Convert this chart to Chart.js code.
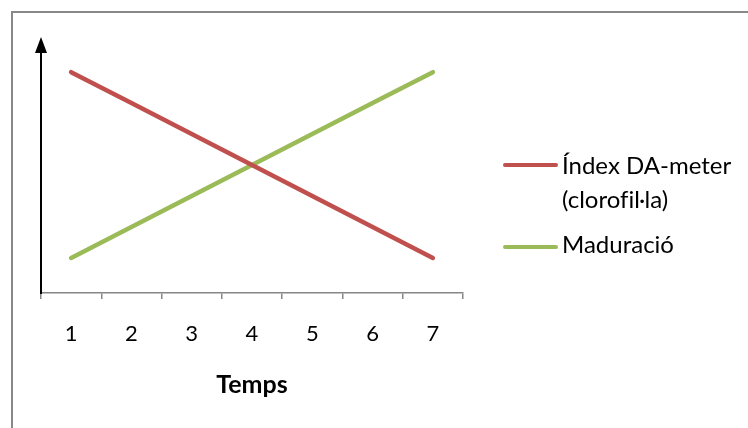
<!DOCTYPE html>
<html>
<head>
<meta charset="utf-8">
<script src="https://cdn.jsdelivr.net/npm/chart.js@4/dist/chart.umd.min.js"></script>
<style>
  html, body { margin: 0; padding: 0; background: #fff; overflow: hidden; }
  #wrap { position: relative; width: 748px; height: 428px; overflow: hidden; }
  #frame { position: absolute; left: 11px; top: 11px; width: 800px; height: 500px; border: 2px solid #888888; box-sizing: border-box; }
  #c { position: absolute; left: 0; top: 0; }
  .leg { position: absolute; font-family: Lato, "Open Sans", sans-serif; font-size: 24px; color: #000; line-height: 34px; white-space: nowrap; font-variant-ligatures: none; }
  .sw { position: absolute; height: 4px; border-radius: 2px; }
</style>
</head>
<body>
<div id="wrap">
  <div id="frame"></div>
  <canvas id="c" width="748" height="428"></canvas>
  <div id="legend"></div>
</div>
<script>
const categories = ['1', '2', '3', '4', '5', '6', '7'];
const indexDA = [7, 6, 5, 4, 3, 2, 1];
const maduracio = [1, 2, 3, 4, 5, 6, 7];
const seriesLabels = [['Índex DA-meter', '(clorofil·la)'], ['Maduració']];
const seriesColors = ['#C0504D', '#9BBB59'];
const xTitle = 'Temps';

const arrowPlugin = {
  id: 'yArrow',
  afterDraw(chart) {
    const ctx = chart.ctx;
    const x = chart.chartArea.left;
    const top = chart.chartArea.top;
    ctx.save();
    ctx.fillStyle = '#000';
    ctx.beginPath();
    ctx.moveTo(x, top - 15);
    ctx.lineTo(x - 6, top + 1);
    ctx.lineTo(x + 6, top + 1);
    ctx.closePath();
    ctx.fill();
    ctx.restore();
  }
};

const chart = new Chart(document.getElementById('c'), {
  type: 'line',
  data: {
    labels: categories,
    datasets: [
      { label: seriesLabels[0].join(' '), data: indexDA, borderColor: seriesColors[0], backgroundColor: seriesColors[0], borderWidth: 4.5, borderCapStyle: 'round', pointRadius: 0, tension: 0 },
      { label: seriesLabels[1].join(' '), data: maduracio, borderColor: seriesColors[1], backgroundColor: seriesColors[1], borderWidth: 4.5, borderCapStyle: 'round', pointRadius: 0, tension: 0 }
    ]
  },
  options: {
    responsive: false,
    animation: false,
    devicePixelRatio: 1,
    layout: { padding: { left: 41, right: 285, top: 52, bottom: 25 } },
    plugins: { legend: { display: false }, tooltip: { enabled: false } },
    scales: {
      x: {
        type: 'category',
        offset: true,
        grid: { display: true, offset: true, drawOnChartArea: false, drawTicks: true, tickLength: 6, color: '#868686', lineWidth: 1.5 },
        border: { display: true, color: '#868686', width: 1.5 },
        ticks: { color: '#000', font: { family: 'Lato', size: 22 }, padding: 22 },
        title: { display: true, text: xTitle, color: '#000', font: { family: 'Lato', size: 25, weight: 'bold' }, padding: { top: 0, bottom: 3 } },
        afterFit(scale) { scale.height = 110; }
      },
      y: {
        min: -0.13,
        max: 7.65,
        grid: { display: false },
        border: { display: true, color: '#000', width: 2 },
        ticks: { display: false },
        afterFit(scale) { scale.width = 0; }
      }
    }
  },
  plugins: [arrowPlugin]
});

// HTML legend
const legend = document.getElementById('legend');
const legendTops = [148, 227];
const swatchTops = [163, 245];
seriesLabels.forEach((lines, i) => {
  const sw = document.createElement('div');
  sw.className = 'sw';
  sw.style.left = '503px';
  sw.style.width = '55px';
  sw.style.top = swatchTops[i] + 'px';
  sw.style.background = seriesColors[i];
  legend.appendChild(sw);
  const t = document.createElement('div');
  t.className = 'leg';
  t.style.left = '562px';
  t.style.top = legendTops[i] + 'px';
  t.innerHTML = lines.join('<br>');
  legend.appendChild(t);
});
</script>
</body>
</html>
